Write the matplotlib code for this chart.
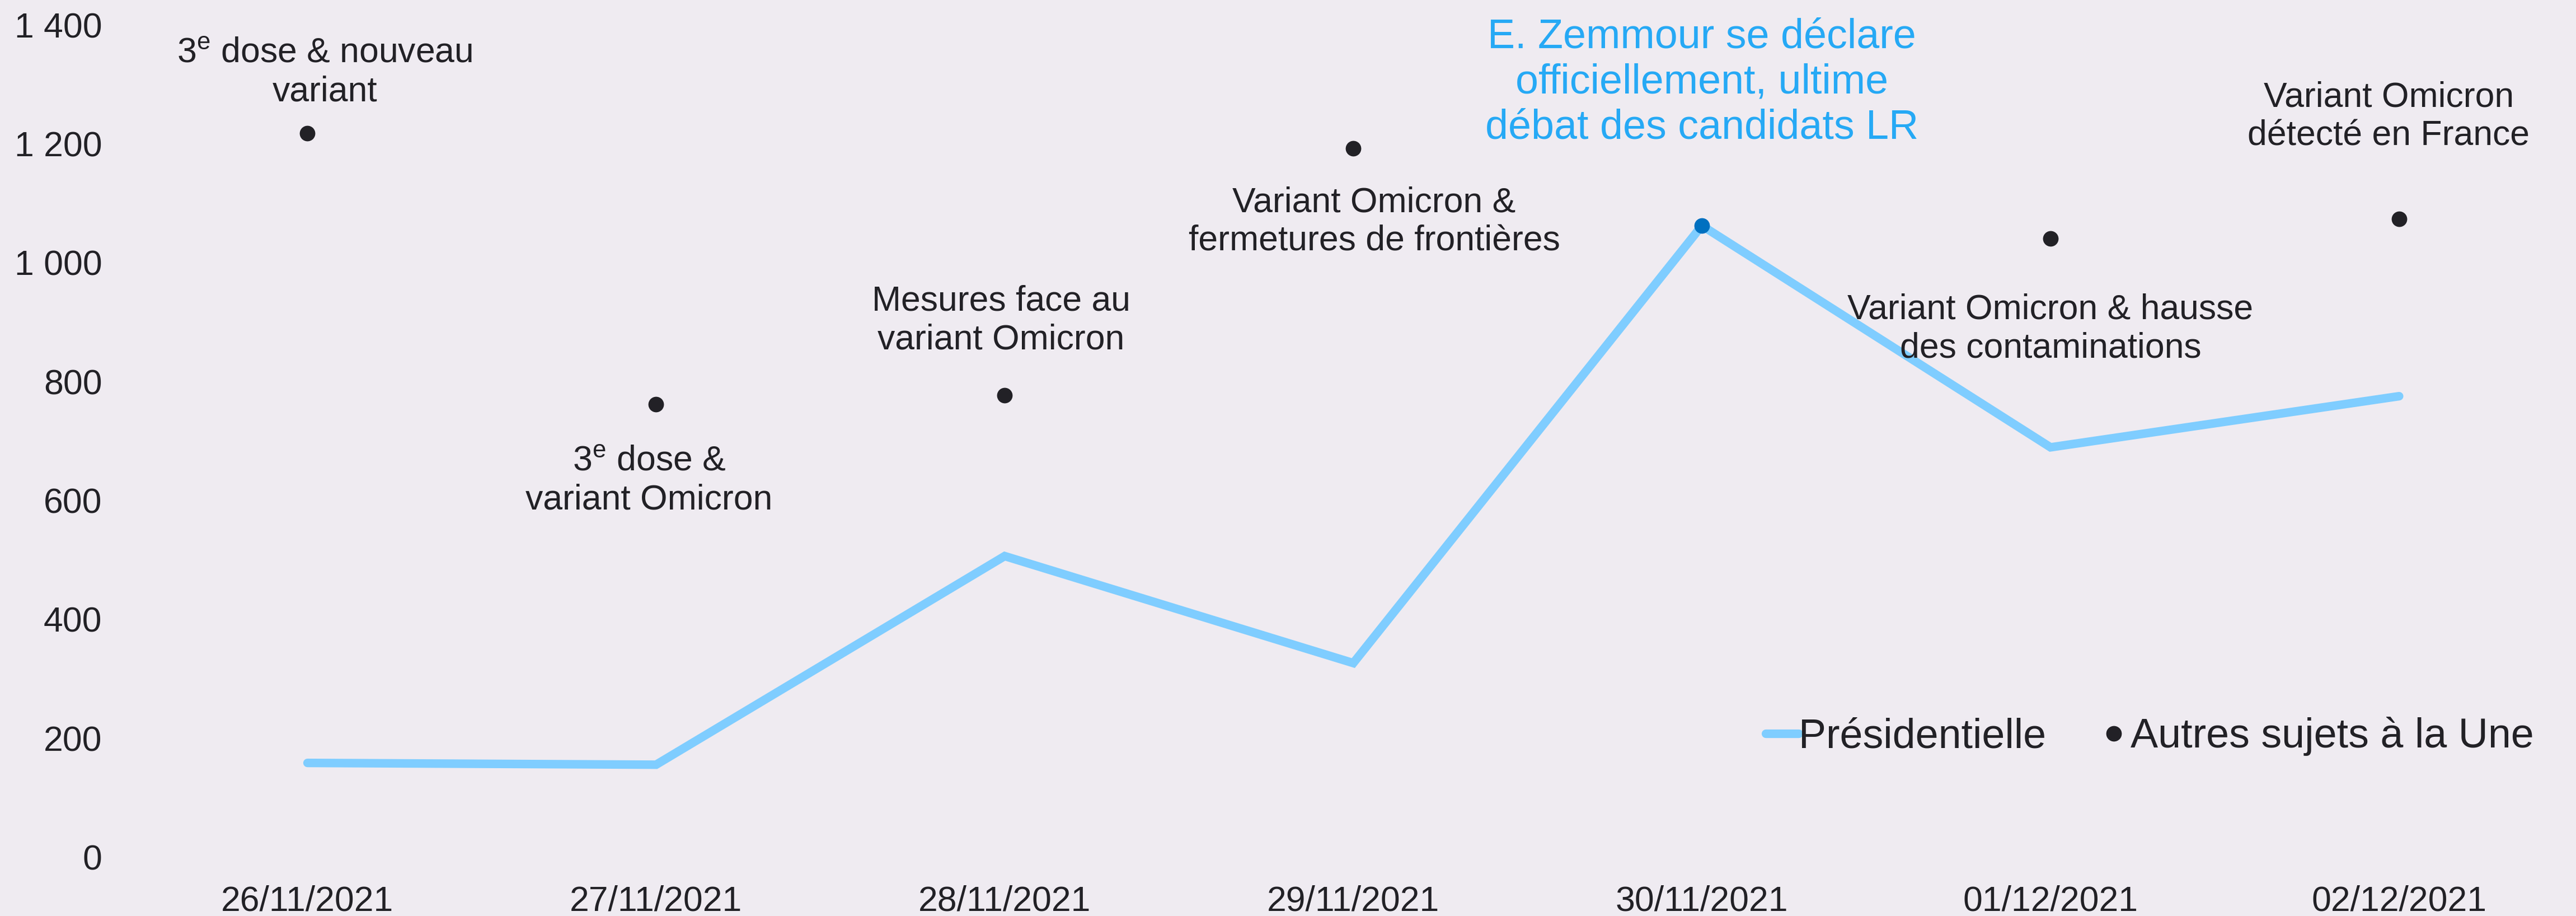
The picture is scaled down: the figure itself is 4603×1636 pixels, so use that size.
import matplotlib
matplotlib.use('Agg')
import matplotlib.pyplot as plt
import numpy as np
from matplotlib.ticker import FuncFormatter

plt.rcParams['font.family'] = ['Liberation Sans', 'DejaVu Sans']
plt.rcParams['mathtext.fontset'] = 'custom'
plt.rcParams['mathtext.rm'] = 'Liberation Sans'

dates = ['26/11/2021', '27/11/2021', '28/11/2021', '29/11/2021',
         '30/11/2021', '01/12/2021', '02/12/2021']
presidentielle = [158, 155, 506, 326, 1062, 689, 775]
# autres sujets a la Une (le 30/11, la Une est la presidentielle)
autres = [1217, 761, 777, 1192, np.nan, 1040, 1073]
highlight = 4
events = [
    r'3$^{\rm e}$ dose & nouveau' + '\nvariant',
    r'3$^{\rm e}$ dose &' + '\nvariant Omicron',
    'Mesures face au\nvariant Omicron',
    'Variant Omicron &\nfermetures de frontières',
    'E. Zemmour se déclare\nofficiellement, ultime\ndébat des candidats LR',
    'Variant Omicron & hausse\ndes contaminations',
    'Variant Omicron\ndétecté en France',
]

bg = '#EFEBF1'
dark = '#222126'
light_blue = '#7FCDFF'
mid_blue = '#26A9F5'
deep_blue = '#0070C0'

fig = plt.figure(figsize=(46.03, 16.36), dpi=100, facecolor=bg)
ax = fig.add_axes([0.0517, 0.0646, 0.9473, 0.9084])
ax.set_facecolor(bg)

x = np.arange(len(dates))
ax.plot(x, presidentielle, color=light_blue, lw=11, solid_capstyle='round',
        solid_joinstyle='miter', label='Présidentielle', zorder=2)
ax.plot(x, autres, ls='none', marker='o', ms=19, color=dark,
        label='Autres sujets à la Une', zorder=3)
ax.plot(x[highlight], presidentielle[highlight], marker='o', ms=19,
        color=deep_blue, zorder=4)

# position of each label (x offset, y in data units)
label_pos = [(0.05, 1320), (-0.02, 633), (-0.01, 902), (0.06, 1068),
             (0.0, 1303), (0.0, 888), (-0.03, 1245)]
for i, txt in enumerate(events):
    dx, ty = label_pos[i]
    if i == highlight:
        ax.text(x[i] + dx, ty, txt, ha='center', va='center', fontsize=53,
                color=mid_blue, linespacing=1.22)
    else:
        ax.text(x[i] + dx, ty, txt, ha='center', va='center', fontsize=45,
                color=dark, linespacing=1.22)

ax.set_xlim(-0.5, len(dates) - 0.5)
ax.set_ylim(0, 1400)
ax.set_yticks(np.arange(0, 1401, 200))
ax.yaxis.set_major_formatter(FuncFormatter(lambda v, p: f'{v:,.0f}'.replace(',', ' ')))
ax.set_xticks(x, dates)
ax.tick_params(axis='both', length=0, labelsize=45, labelcolor=dark)
ax.tick_params(axis='y', pad=40)
ax.tick_params(axis='x', pad=36)
for s in ax.spines.values():
    s.set_visible(False)

ax.legend(loc='center left', bbox_to_anchor=(0.671, 0.196),
          bbox_transform=fig.transFigure, ncol=2, frameon=False,
          fontsize=53, handlelength=0.8, handletextpad=0.0,
          columnspacing=1.25, labelcolor=dark)

fig.savefig('out.png', dpi=100, facecolor=bg)
